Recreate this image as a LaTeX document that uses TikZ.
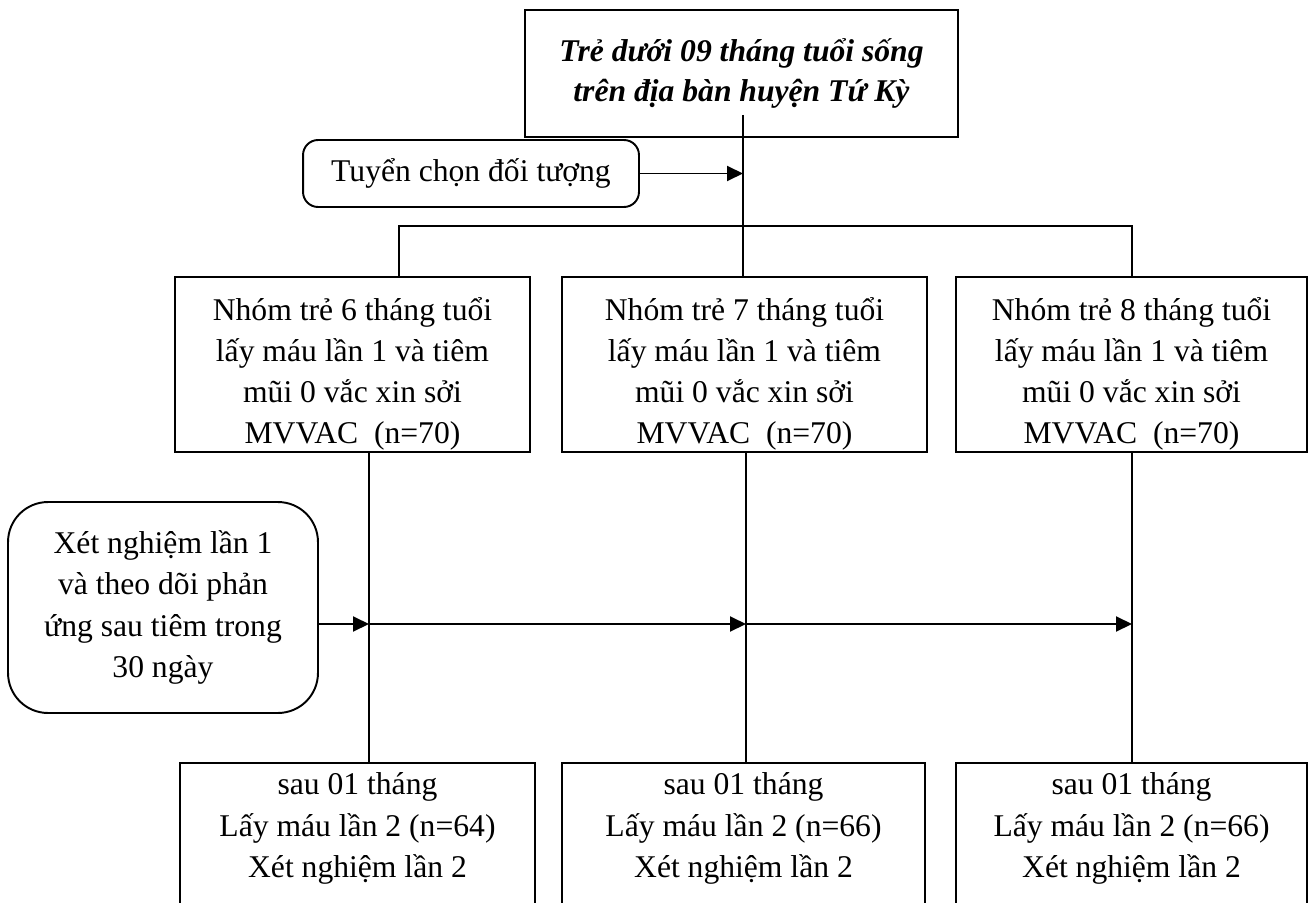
\documentclass[tikz,border=0pt]{standalone}
\usepackage{fontspec}
\setmainfont{Liberation Serif}
\usetikzlibrary{arrows.meta}

\begin{document}
\begin{tikzpicture}[x=0.02cm, y=-0.02cm,
		box/.style={draw, line width=1.1pt, align=center, inner sep=0pt, font=\fontsize{18}{23.5}\selectfont},
		roundbox/.style={box, rounded corners=#1},
		link/.style={line width=1.1pt},
		arrow/.style={link, -{Triangle[length=3.2mm, width=3mm]}}]
		\useasboundingbox (0,0) rectangle (1310,902);
		\clip (0,0) rectangle (1310,902);

		% Top box
		\node[box, minimum width=8.66cm, minimum height=2.54cm, font=\fontsize{18}{23}\selectfont\bfseries\itshape] (top) at (741.5,73.5) {Trẻ dưới 09 tháng tuổi sống\\trên địa bàn huyện Tứ Kỳ};

		% Selection
		\node[roundbox=0.3cm, minimum width=6.72cm, minimum height=1.34cm] (select) at (471,173.5) {Tuyển chọn đối tượng};
		\coordinate (trunk) at (743,115);
		\draw[arrow] (select.east) -- (select.east -| trunk);

		% Groups
		\foreach \n/\cx/\w/\m in {1/352.5/7.1/6, 2/744.5/7.3/7, 3/1131.5/7.02/8}
			\node[box, minimum width=\w cm, text height=3.34cm, text depth=0.16cm] (group\n) at (\cx,364.5) {Nhóm trẻ \m{} tháng tuổi\\lấy máu lần 1 và tiêm\\mũi 0 vắc xin sởi\\MVVAC~~(n=70)};

		\draw[link] (trunk) -- (trunk |- group2.north);
		\coordinate (busL) at (399,226);
		\coordinate (busR) at (1132,226);
		\draw[link] (busL |- group1.north) -- (busL) -- (busR) -- (busR |- group3.north);

		% Test box
		\node[roundbox=0.8cm, minimum width=6.2cm, minimum height=4.22cm] (test) at (163,607.5) {Xét nghiệm lần 1\\và theo dõi phản\\ứng sau tiêm trong\\30 ngày};

		% After one month
		\foreach \n/\cx/\w/\k in {1/357.5/7.1/64, 2/743.5/7.26/66, 3/1131.5/7.02/66}
			\node[box, anchor=north, minimum width=\w cm, inner ysep=0.2cm, text depth=4cm] (after\n) at (\cx,762) {sau 01 tháng\\Lấy máu lần 2 (n=\k)\\Xét nghiệm lần 2};

		% Columns
		\coordinate (col1) at (369,624);
		\coordinate (col2) at (746,624);
		\coordinate (col3) at (1132,624);
		\foreach \n in {1,2,3}
			\draw[link] (col\n |- group\n.south) -- (col\n |- after\n.north);
		\draw[arrow] (test.east |- col1) -- (col1);
		\draw[arrow] (col1) -- (col2);
		\draw[arrow] (col2) -- (col3);
	\end{tikzpicture}
\end{document}
